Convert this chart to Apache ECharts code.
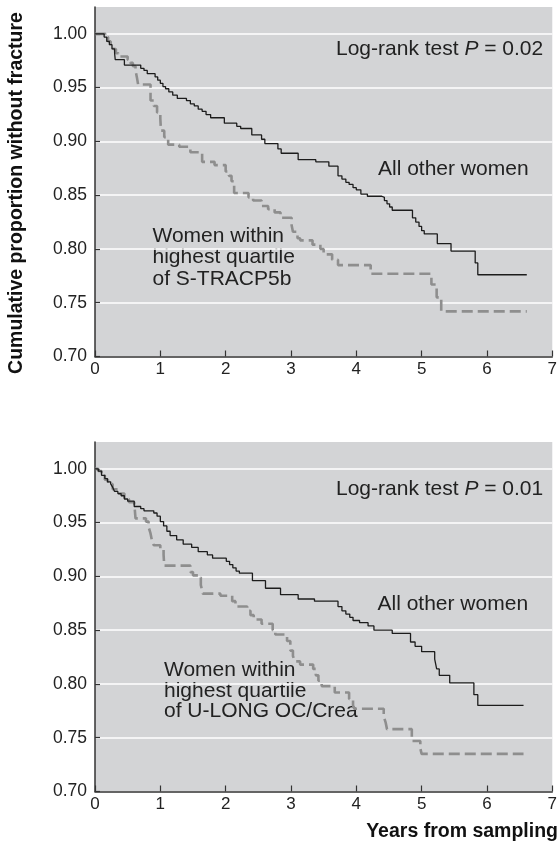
<!DOCTYPE html>
<html>
<head>
<meta charset="utf-8">
<script src="https://cdn.jsdelivr.net/npm/echarts@6/dist/echarts.min.js"></script>
<style>
  html, body { margin: 0; padding: 0; background: #ffffff; }
  #chart { width: 560px; height: 844px; }
</style>
</head>
<body>
<div id="chart"></div>
<script>
// Kaplan-Meier estimates: time (years from sampling) and cumulative proportion without fracture.
// Panel A: S-TRACP5b
const trapOtherTime = [0, 0.14, 0.18, 0.22, 0.26, 0.30, 0.31, 0.45, 0.70, 0.75, 0.80, 0.92, 0.96, 1.00, 1.04, 1.08, 1.13, 1.19, 1.26, 1.40, 1.46, 1.52, 1.58, 1.64, 1.70, 1.77, 1.98, 2.17, 2.23, 2.40, 2.55, 2.60, 2.80, 2.85, 3.11, 3.38, 3.58, 3.72, 3.78, 3.84, 3.89, 3.95, 4.00, 4.07, 4.17, 4.39, 4.43, 4.47, 4.51, 4.55, 4.86, 4.91, 4.96, 5.00, 5.04, 5.24, 5.45, 5.82, 5.86, 6.61];
const trapOtherSurv = [1.000, 0.997, 0.993, 0.990, 0.986, 0.982, 0.976, 0.971, 0.968, 0.966, 0.963, 0.960, 0.957, 0.954, 0.951, 0.949, 0.946, 0.943, 0.940, 0.938, 0.935, 0.933, 0.930, 0.928, 0.925, 0.922, 0.917, 0.914, 0.912, 0.906, 0.902, 0.898, 0.893, 0.889, 0.883, 0.881, 0.877, 0.868, 0.865, 0.862, 0.860, 0.857, 0.855, 0.851, 0.849, 0.848, 0.845, 0.842, 0.839, 0.836, 0.829, 0.825, 0.821, 0.817, 0.814, 0.805, 0.798, 0.787, 0.776, 0.776];

const trapHighTime = [0, 0.16, 0.20, 0.24, 0.28, 0.32, 0.36, 0.50, 0.54, 0.58, 0.62, 0.64, 0.66, 0.85, 0.90, 0.95, 1.00, 1.01, 1.06, 1.12, 1.29, 1.46, 1.64, 1.83, 2.00, 2.05, 2.09, 2.13, 2.35, 2.42, 2.55, 2.65, 2.75, 2.84, 3.01, 3.03, 3.10, 3.14, 3.33, 3.45, 3.50, 3.63, 3.72, 4.22, 5.15, 5.23, 5.30, 6.61];
const trapHighSurv = [1.000, 0.997, 0.993, 0.989, 0.986, 0.982, 0.979, 0.976, 0.973, 0.970, 0.966, 0.960, 0.953, 0.938, 0.933, 0.927, 0.921, 0.910, 0.904, 0.897, 0.895, 0.890, 0.881, 0.878, 0.872, 0.868, 0.863, 0.852, 0.848, 0.845, 0.840, 0.837, 0.834, 0.829, 0.822, 0.816, 0.810, 0.808, 0.804, 0.800, 0.795, 0.790, 0.785, 0.777, 0.767, 0.755, 0.742, 0.742];

// Panel B: U-LONG OC/Crea
const ocOtherTime = [0, 0.05, 0.10, 0.15, 0.19, 0.24, 0.27, 0.30, 0.35, 0.40, 0.45, 0.50, 0.60, 0.70, 0.75, 0.90, 0.95, 1.00, 1.05, 1.10, 1.15, 1.25, 1.35, 1.48, 1.58, 1.72, 1.80, 2.01, 2.06, 2.11, 2.16, 2.21, 2.41, 2.61, 2.84, 3.11, 3.36, 3.72, 3.78, 3.84, 3.90, 3.95, 4.05, 4.18, 4.27, 4.55, 4.83, 4.90, 5.00, 5.20, 5.23, 5.27, 5.43, 5.80, 5.86, 6.56];
const ocOtherSurv = [1.000, 0.998, 0.994, 0.991, 0.988, 0.986, 0.983, 0.979, 0.977, 0.975, 0.972, 0.970, 0.965, 0.963, 0.961, 0.959, 0.956, 0.951, 0.947, 0.942, 0.938, 0.934, 0.930, 0.927, 0.923, 0.920, 0.917, 0.914, 0.911, 0.908, 0.905, 0.903, 0.896, 0.889, 0.883, 0.879, 0.877, 0.872, 0.868, 0.865, 0.862, 0.859, 0.857, 0.854, 0.850, 0.847, 0.839, 0.835, 0.830, 0.823, 0.814, 0.808, 0.801, 0.790, 0.780, 0.780];

const ocHighTime = [0, 0.05, 0.10, 0.15, 0.20, 0.27, 0.35, 0.45, 0.52, 0.60, 0.62, 0.78, 0.82, 0.85, 0.87, 0.90, 1.00, 1.05, 1.06, 1.46, 1.50, 1.58, 1.62, 1.65, 1.92, 2.10, 2.15, 2.33, 2.38, 2.43, 2.55, 2.72, 2.76, 2.94, 2.99, 3.03, 3.06, 3.14, 3.34, 3.38, 3.42, 3.47, 3.67, 3.89, 3.95, 3.97, 4.42, 4.45, 4.47, 4.85, 4.98, 5.00, 6.56];
const ocHighSurv = [1.000, 0.998, 0.994, 0.990, 0.986, 0.981, 0.977, 0.972, 0.969, 0.968, 0.954, 0.951, 0.946, 0.940, 0.934, 0.929, 0.926, 0.920, 0.910, 0.904, 0.901, 0.899, 0.892, 0.884, 0.882, 0.877, 0.872, 0.868, 0.864, 0.860, 0.856, 0.850, 0.846, 0.840, 0.831, 0.826, 0.821, 0.818, 0.814, 0.808, 0.803, 0.798, 0.792, 0.786, 0.780, 0.777, 0.770, 0.764, 0.758, 0.747, 0.740, 0.735, 0.735];

// Axis ticks
const yTicks = [0.70, 0.75, 0.80, 0.85, 0.90, 0.95, 1.00];
const xTicks = [0, 1, 2, 3, 4, 5, 6, 7];

// Texts
const yTitle = 'Cumulative proportion without fracture';
const xTitle = 'Years from sampling';
const pValues = ['0.02', '0.01'];
const otherLabel = 'All other women';
const highLabels = [
  'Women within\nhighest quartile\nof S-TRACP5b',
  'Women within\nhighest quartile\nof U-LONG OC/Crea'
];

const FONT = '"Liberation Sans", Arial, sans-serif';
const INK = '#222222';
const PANEL = '#d3d4d6';

function pairs(ts, vs) { return ts.map((t, i) => [t, vs[i]]); }

function xAxisFor(gridIndex) {
  return {
    gridIndex, type: 'value', min: 0, max: 7, interval: 1,
    axisLine: { show: true, onZero: false, lineStyle: { color: '#333', width: 1.5 } },
    axisTick: { show: true, inside: true, length: 6, lineStyle: { color: '#333', width: 1.2 }, customValues: xTicks },
    axisLabel: { show: true, margin: 4, color: INK, fontSize: 17, fontFamily: FONT, customValues: xTicks },
    splitLine: { show: false }
  };
}
function yAxisFor(gridIndex) {
  return {
    gridIndex, type: 'value', min: 0.70, max: 1.025, interval: 0.05,
    axisLine: { show: true, onZero: false, lineStyle: { color: '#333', width: 1.5 } },
    axisTick: { show: true, inside: true, length: 5, lineStyle: { color: '#333', width: 1.2 }, customValues: yTicks },
    axisLabel: {
      show: true, margin: 8, color: INK, fontSize: 17.5, fontFamily: FONT, customValues: yTicks,
      formatter: v => (v > 1.001 ? '' : v.toFixed(2))
    },
    splitLine: { show: true, lineStyle: { color: '#ffffff', width: 1.5 } }
  };
}
function curve(name, idx, ts, vs, dashed) {
  return {
    name, type: 'line', xAxisIndex: idx, yAxisIndex: idx, step: 'end',
    showSymbol: false, symbol: 'none', silent: true, animation: false,
    data: pairs(ts, vs),
    lineStyle: dashed
      ? { color: '#8e8e8e', width: 2.6, type: [11, 5] }
      : { color: '#1c1c1c', width: 1.3 },
    z: dashed ? 3 : 4
  };
}

function textEl(x, y, text, extra) {
  return {
    type: 'text', x, y,
    style: Object.assign({ text, fill: INK, font: '21px ' + FONT, align: 'left', verticalAlign: 'middle' }, extra || {})
  };
}
function pText(x, y, p) {
  return {
    type: 'text', x, y,
    style: {
      text: '{a|Log-rank test }{i|P}{a| = ' + p + '}',
      align: 'left', verticalAlign: 'middle', fill: INK,
      rich: {
        a: { fontSize: 21, fontFamily: FONT, fill: INK, color: INK },
        i: { fontSize: 21, fontFamily: FONT, fontStyle: 'italic', fill: INK, color: INK }
      }
    }
  };
}

const chart = echarts.init(document.getElementById('chart'), null, { renderer: 'canvas', width: 560, height: 844 });
chart.setOption({
  animation: false,
  backgroundColor: '#ffffff',
  grid: [
    { left: 95, right: 1, top: 7, height: 349.5, show: true, backgroundColor: PANEL, borderWidth: 0 },
    { left: 95, right: 1, top: 442, height: 349.5, show: true, backgroundColor: PANEL, borderWidth: 0 }
  ],
  xAxis: [xAxisFor(0), xAxisFor(1)],
  yAxis: [yAxisFor(0), yAxisFor(1)],
  series: [
    curve('All other women', 0, trapOtherTime, trapOtherSurv, false),
    curve('Highest quartile S-TRACP5b', 0, trapHighTime, trapHighSurv, true),
    curve('All other women', 1, ocOtherTime, ocOtherSurv, false),
    curve('Highest quartile U-LONG OC/Crea', 1, ocHighTime, ocHighSurv, true)
  ],
  graphic: [
    { type: 'text', x: 17, y: 193, rotation: Math.PI / 2,
      style: { text: yTitle, fill: '#111', font: 'bold 19.5px ' + FONT, align: 'center', verticalAlign: 'middle' } },
    { type: 'text', x: 558, y: 832,
      style: { text: xTitle, fill: '#111', font: 'bold 19.5px ' + FONT, align: 'right', verticalAlign: 'middle' } },
    pText(336, 49, pValues[0]),
    textEl(378, 169, otherLabel),
    textEl(152.5, 225, highLabels[0], { verticalAlign: 'top', lineHeight: 21.5 }),
    pText(336, 489, pValues[1]),
    textEl(377.5, 604, otherLabel),
    textEl(164, 660, highLabels[1], { verticalAlign: 'top', lineHeight: 20.5 })
  ]
});
</script>
</body>
</html>
